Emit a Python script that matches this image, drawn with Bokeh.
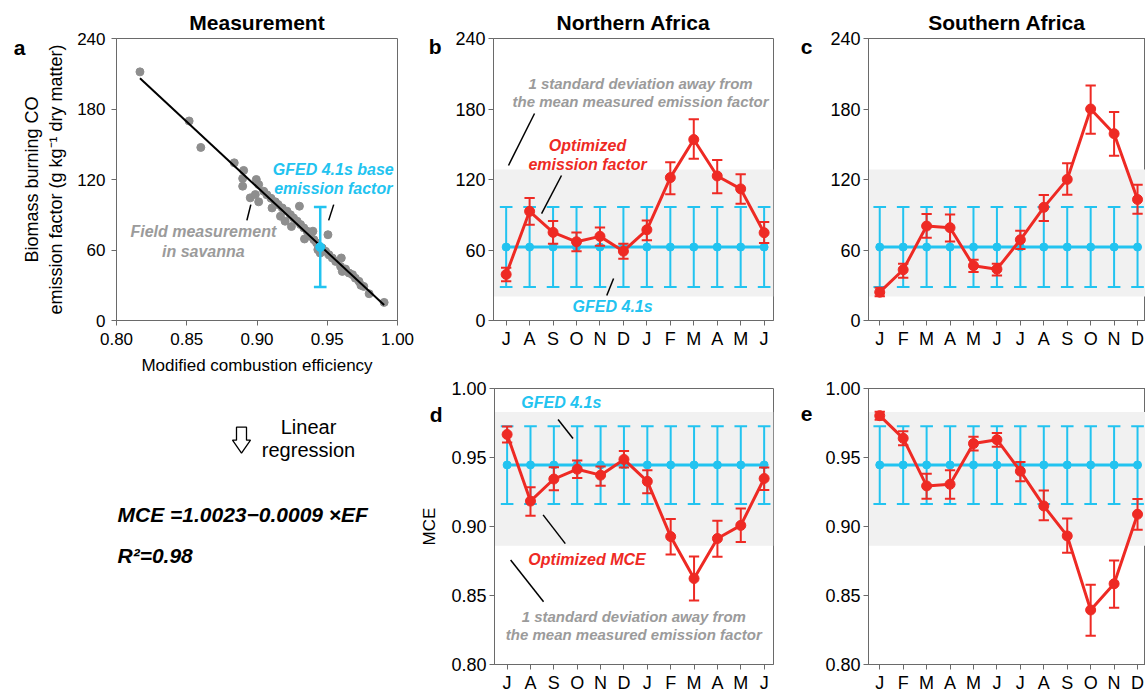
from bokeh.plotting import figure
from bokeh.models import Range1d, FixedTicker, BoxAnnotation, LinearAxis, NumeralTickFormatter
from bokeh.layouts import row, column
from bokeh.embed import file_html
from bokeh.resources import INLINE
from bokeh.core.properties import value

FONT = "Liberation Sans"
RED = "#ee2a24"
BLUE = "#22c3f0"
GRAY_TXT = "#9b9b9b"
BAND = "#f1f1f1"
AXC = "#6a6a6a"

# ---------------- data ----------------
# Panel a: field measurements in savanna
meas_mce = [0.8167, 0.8517, 0.8600, 0.8838, 0.8905, 0.8898, 0.8898, 0.8952, 0.8988, 0.9012,
            0.8995, 0.9012, 0.9048, 0.9070, 0.9100, 0.9107, 0.9130, 0.9150, 0.9167, 0.9180,
            0.9200, 0.9214, 0.9238, 0.9245, 0.9260, 0.9286, 0.9302, 0.9310, 0.9333, 0.9338,
            0.9357, 0.9380, 0.9398, 0.9405, 0.9424, 0.9433, 0.9450, 0.9464, 0.9505, 0.9488,
            0.9512, 0.9536, 0.9560, 0.9600, 0.9595, 0.9607, 0.9630, 0.9655, 0.9680, 0.9700,
            0.9726, 0.9740, 0.9760, 0.9798, 0.9905]
meas_ef = [211.6, 169.8, 147.3, 134.2, 127.7, 120.9, 114.3, 104.4, 107.2, 101.0,
           120.0, 115.7, 110.0, 107.0, 104.0, 95.8, 101.0, 98.7, 88.7, 95.8,
           84.5, 93.0, 90.0, 80.0, 87.3, 84.5, 97.3, 81.6, 78.8, 69.4,
           76.0, 71.7, 76.0, 68.8, 66.0, 60.3, 57.4, 61.7, 73.0, 58.9,
           56.0, 53.2, 50.3, 53.2, 46.0, 41.8, 43.8, 40.4, 39.0, 36.0,
           33.3, 29.9, 29.0, 22.8, 15.4]
fit_intercept = 1.0023
fit_slope = -0.0009
fit_r2 = 0.98

gfed_base_mce = 0.945
gfed_base_ef = 62.5
gfed_base_ef_lo = 28.5
gfed_base_ef_hi = 96.5

# Panels b-e
nafr_months = ["J", "A", "S", "O", "N", "D", "J", "F", "M", "A", "M", "J"]
safr_months = ["J", "F", "M", "A", "M", "J", "J", "A", "S", "O", "N", "D"]

nafr_ef = [39.2, 92.9, 75.0, 67.0, 71.6, 59.0, 77.2, 121.6, 154.0, 123.0, 112.0, 74.7]
nafr_ef_lo = [33.5, 81.5, 65.3, 59.0, 63.6, 52.5, 68.2, 107.4, 137.7, 108.2, 99.4, 65.9]
nafr_ef_hi = [44.9, 104.2, 84.6, 75.0, 79.2, 65.3, 85.2, 134.6, 171.3, 136.6, 124.4, 83.8]

safr_ef = [24.1, 43.2, 80.4, 79.0, 46.6, 43.7, 68.7, 96.3, 120.1, 180.0, 159.0, 103.0]
safr_ef_lo = [20.7, 36.4, 70.4, 67.3, 41.2, 38.3, 60.8, 84.6, 107.1, 159.0, 140.3, 90.9]
safr_ef_hi = [27.8, 48.3, 90.7, 90.3, 51.7, 48.3, 76.4, 106.8, 133.8, 200.0, 177.5, 115.6]

nafr_mce = [0.9667, 0.9184, 0.9344, 0.9415, 0.9372, 0.9486, 0.9327, 0.8927, 0.8623, 0.8913, 0.9008, 0.9348]
nafr_mce_lo = [0.9608, 0.9077, 0.9263, 0.9351, 0.9296, 0.9427, 0.9241, 0.8797, 0.8464, 0.8780, 0.8887, 0.9265]
nafr_mce_hi = [0.9724, 0.9284, 0.9429, 0.9479, 0.9434, 0.9548, 0.9408, 0.9054, 0.8782, 0.9042, 0.9130, 0.9427]

safr_mce = [0.9803, 0.9639, 0.9294, 0.9306, 0.9601, 0.9629, 0.9401, 0.9149, 0.8932, 0.8395, 0.8585, 0.9089]
safr_mce_lo = [0.9774, 0.9589, 0.9201, 0.9201, 0.9551, 0.9577, 0.9327, 0.9046, 0.8809, 0.8209, 0.8411, 0.8977]
safr_mce_hi = [0.9831, 0.9691, 0.9382, 0.9408, 0.9650, 0.9677, 0.9467, 0.9260, 0.9058, 0.8578, 0.8754, 0.9199]

gfed_ef = [62.5] * 12
gfed_ef_lo = [28.5] * 12
gfed_ef_hi = [96.5] * 12
gfed_mce = [0.9446] * 12
gfed_mce_lo = [0.9163] * 12
gfed_mce_hi = [0.9727] * 12

band_ef = (20.5, 128.5)
band_mce = (0.886, 0.983)

ef_ticks = [0, 60, 120, 180, 240]
mce_ticks = [0.80, 0.85, 0.90, 0.95, 1.00]


# ---------------- helpers ----------------
def style(p, tick_font="17px"):
    p.xgrid.visible = False
    p.ygrid.visible = False
    p.background_fill_color = "white"
    p.border_fill_color = "white"
    p.outline_line_color = AXC
    p.outline_line_width = 1
    for ax in p.axis:
        ax.axis_line_color = AXC
        ax.major_tick_line_color = AXC
        ax.major_tick_out = 5
        ax.major_tick_in = 0
        ax.minor_tick_line_color = None
        ax.major_label_text_font = FONT
        ax.major_label_text_font_size = tick_font
        ax.major_label_text_color = "black"
        ax.axis_label_text_font = FONT
        ax.axis_label_text_font_size = "17px"
        ax.axis_label_text_font_style = "normal"
        ax.axis_label_text_color = "black"


def set_title(p, text):
    p.title.text = text
    p.title.align = "center"
    p.title.text_font = FONT
    p.title.text_font_size = "21px"
    p.title.text_font_style = "bold"
    p.title.text_color = "black"


def letter_axis(p, txt, y, standoff, label=None, label_size="17px", label_standoff=0):
    """An extra left axis without line/ticks whose single tick label is the panel letter."""
    ax = LinearAxis(ticker=FixedTicker(ticks=[y]), major_label_overrides={y: txt})
    ax.axis_line_color = None
    ax.major_tick_line_color = None
    ax.minor_tick_line_color = None
    ax.major_tick_out = 0
    ax.major_tick_in = 0
    ax.major_label_standoff = standoff
    ax.major_label_text_font = FONT
    ax.major_label_text_font_size = "21px"
    ax.major_label_text_font_style = "bold"
    ax.major_label_text_color = "black"
    if label:
        ax.axis_label = label
        ax.axis_label_text_font = FONT
        ax.axis_label_text_font_size = label_size
        ax.axis_label_text_font_style = "normal"
        ax.axis_label_text_color = "black"
        ax.axis_label_standoff = label_standoff
    p.add_layout(ax, "left")


def add_text(p, x, y, txt, color, size="16px", align="center", style_="bold italic"):
    p.text(x=[x], y=[y], text=[txt], text_font=value(FONT), text_font_size=size,
           text_font_style=style_, text_color=color, text_align=align,
           text_baseline="middle")


def errbars(p, x, lo, hi, color, half, lw=2):
    p.segment(x0=x, y0=lo, x1=x, y1=hi, line_color=color, line_width=lw)
    p.segment(x0=[v - half for v in x], y0=lo, x1=[v + half for v in x], y1=lo, line_color=color, line_width=lw)
    p.segment(x0=[v - half for v in x], y0=hi, x1=[v + half for v in x], y1=hi, line_color=color, line_width=lw)


def monthly(width, height, borders, xr, yr, ticks, months, band,
            red, red_lo, red_hi, blue, blue_lo, blue_hi, mce=False, open_right=False):
    p = figure(width=width, height=height, x_range=Range1d(*xr), y_range=Range1d(*yr),
               toolbar_location=None, output_backend="svg",
               min_border_left=borders[0], min_border_right=borders[1],
               min_border_top=borders[2], min_border_bottom=borders[3])
    x = list(range(len(months)))
    p.xaxis.ticker = FixedTicker(ticks=x)
    p.xaxis.major_label_overrides = {i: m for i, m in enumerate(months)}
    p.yaxis.ticker = FixedTicker(ticks=ticks)
    if mce:
        p.yaxis.formatter = NumeralTickFormatter(format="0.00")
    p.add_layout(BoxAnnotation(bottom=band[0], top=band[1], fill_color=BAND, fill_alpha=1,
                               line_color=None, level="underlay"))
    errbars(p, x, blue_lo, blue_hi, BLUE, 0.27)
    p.line(x, blue, line_color=BLUE, line_width=3)
    p.scatter(x, blue, size=8, color=BLUE)
    errbars(p, x, red_lo, red_hi, RED, 0.22)
    p.line(x, red, line_color=RED, line_width=3)
    p.scatter(x, red, size=10, color=RED)
    if open_right:
        p.outline_line_color = None
        top = LinearAxis(ticker=FixedTicker(ticks=[]), major_label_text_font_size="0px")
        p.add_layout(top, "above")
    style(p, "18px")
    p.xaxis.major_label_standoff = 3
    p.yaxis.major_label_standoff = 3
    if open_right:
        top = p.above[-1]
        top.major_tick_line_color = None
        top.major_tick_out = 0
        top.major_label_standoff = 0
    return p


# layout geometry (pixels)
W1, W2, W3 = 416, 380, 349
H1, H2 = 377, 318
TOP2, BOT2 = 11, 29   # borders of the lower row

# ---------------- panel a ----------------
pa = figure(width=W1, height=H1, x_range=Range1d(0.80, 1.00), y_range=Range1d(0, 240),
            toolbar_location=None, output_backend="svg",
            min_border_left=116, min_border_right=19, min_border_top=38, min_border_bottom=56)
set_title(pa, "Measurement")
pa.xaxis.ticker = FixedTicker(ticks=mce_ticks)
pa.xaxis.formatter = NumeralTickFormatter(format="0.00")
pa.yaxis.ticker = FixedTicker(ticks=ef_ticks)
pa.xaxis.axis_label = "Modified combustion efficiency"
fx = [min(meas_mce), max(meas_mce)]
fy = [(m - fit_intercept) / fit_slope for m in fx]
pa.scatter(meas_mce, meas_ef, size=8, color="#8e8e8e")
pa.line(fx, fy, line_color="black", line_width=2)
pa.segment(x0=[gfed_base_mce], y0=[gfed_base_ef_lo], x1=[gfed_base_mce], y1=[gfed_base_ef_hi],
           line_color=BLUE, line_width=2.5)
pa.segment(x0=[gfed_base_mce - 0.0045] * 2, y0=[gfed_base_ef_lo, gfed_base_ef_hi],
           x1=[gfed_base_mce + 0.0045] * 2, y1=[gfed_base_ef_lo, gfed_base_ef_hi],
           line_color=BLUE, line_width=2.5)
pa.scatter([gfed_base_mce], [gfed_base_ef], size=9, color=BLUE)
add_text(pa, 0.9543, 128.4, "GFED 4.1s base", BLUE)
add_text(pa, 0.9543, 112.2, "emission factor", BLUE)
pa.segment(x0=[0.9510], y0=[85.2], x1=[0.9546], y1=[98.6], line_color="black", line_width=1.5)
add_text(pa, 0.8618, 75.8, "Field measurement", GRAY_TXT)
add_text(pa, 0.8618, 58.8, "in savanna", GRAY_TXT)
pa.segment(x0=[0.8928], y0=[85.2], x1=[0.8956], y1=[98.6], line_color="black", line_width=1.5)
style(pa)
pa.xaxis.major_label_standoff = 7
pa.xaxis.axis_label_standoff = 8
pa.yaxis.major_label_standoff = 6
letter_axis(pa, "a", 232.6, 49,
            label="Biomass burning CO\nemission factor (g kg\u207b\u00b9 dry matter)",
            label_size="18px", label_standoff=-55)

# ---------------- text under panel a (coordinates = page pixels) ----------------
pt = figure(width=W1, height=H2, x_range=Range1d(116, 397),
            y_range=Range1d(H1 + H2 - BOT2, H1 + TOP2),
            toolbar_location=None, output_backend="svg", title=None,
            min_border_left=116, min_border_right=19, min_border_top=TOP2, min_border_bottom=BOT2)
pt.axis.visible = False
pt.xgrid.visible = False
pt.ygrid.visible = False
pt.outline_line_color = None
pt.background_fill_color = "white"
pt.patch(x=[236, 246, 246, 250, 241, 232, 236], y=[427, 427, 440, 440, 453, 440, 440],
         fill_color="white", line_color="black", line_width=1.3)
add_text(pt, 308, 427, "Linear", "black", "20px", "center", "normal")
add_text(pt, 308, 450, "regression", "black", "20px", "center", "normal")
eq = "MCE =%.4f\u2212%.4f \u00d7EF" % (fit_intercept, abs(fit_slope))
add_text(pt, 117, 515, eq, "black", "21px", "left")
add_text(pt, 117, 556, "R\u00b2=%.2f" % fit_r2, "black", "21px", "left")

# ---------------- panels b-e ----------------
xr_b = (-0.54, 11.4)
xr_c = (-0.48, 11.34)

pb = monthly(W2, H1, (77, 23, 38, 56), xr_b, (0, 240), ef_ticks, nafr_months, band_ef,
             nafr_ef, nafr_ef_lo, nafr_ef_hi, gfed_ef, gfed_ef_lo, gfed_ef_hi)
set_title(pb, "Northern Africa")
add_text(pb, 5.73, 201.7, "1 standard deviation away from", GRAY_TXT, "15px")
add_text(pb, 5.73, 186.4, "the mean measured emission factor", GRAY_TXT, "15px")
pb.segment(x0=[0.10], y0=[131.9], x1=[1.21], y1=[176.2], line_color="black", line_width=1.5)
add_text(pb, 3.47, 148.9, "Optimized", RED)
add_text(pb, 3.47, 132.8, "emission factor", RED)
pb.segment(x0=[1.51], y0=[91.0], x1=[2.36], y1=[123.4], line_color="black", line_width=1.5)
add_text(pb, 4.54, 11.9, "GFED 4.1s", BLUE)
pb.segment(x0=[4.29], y0=[21.3], x1=[4.58], y1=[35.7], line_color="black", line_width=1.5)
letter_axis(pb, "b", 233.2, 11)

pc = monthly(W3, H1, (72, 0, 38, 56), xr_c, (0, 240), ef_ticks, safr_months, band_ef,
             safr_ef, safr_ef_lo, safr_ef_hi, gfed_ef, gfed_ef_lo, gfed_ef_hi, open_right=True)
set_title(pc, "Southern Africa")
letter_axis(pc, "c", 233.2, 15)

pd = monthly(W2, H2, (77, 23, TOP2, BOT2), xr_b, (0.80, 1.00), mce_ticks, nafr_months, band_mce,
             nafr_mce, nafr_mce_lo, nafr_mce_hi, gfed_mce, gfed_mce_lo, gfed_mce_hi, mce=True)
add_text(pd, 2.32, 0.990, "GFED 4.1s", BLUE)
pd.segment(x0=[2.18], y0=[0.9776], x1=[2.82], y1=[0.9638], line_color="black", line_width=1.5)
pd.segment(x0=[1.54], y0=[0.9084], x1=[2.49], y1=[0.8876], line_color="black", line_width=1.5)
add_text(pd, 3.42, 0.8764, "Optimized MCE", RED)
pd.segment(x0=[0.15], y0=[0.8757], x1=[1.56], y1=[0.8455], line_color="black", line_width=1.5)
add_text(pd, 5.42, 0.8348, "1 standard deviation away from", GRAY_TXT, "15px")
add_text(pd, 5.42, 0.8221, "the mean measured emission factor", GRAY_TXT, "15px")
letter_axis(pd, "d", 0.9814, 6, label="MCE", label_size="17px", label_standoff=-12)

pe = monthly(W3, H2, (72, 0, TOP2, BOT2), xr_c, (0.80, 1.00), mce_ticks, safr_months, band_mce,
             safr_mce, safr_mce_lo, safr_mce_hi, gfed_mce, gfed_mce_lo, gfed_mce_hi, mce=True,
             open_right=True)
letter_axis(pe, "e", 0.9814, 10)

layout = column(row(pa, pb, pc), row(pt, pd, pe))
open("out.html", "w").write(file_html(layout, INLINE))
